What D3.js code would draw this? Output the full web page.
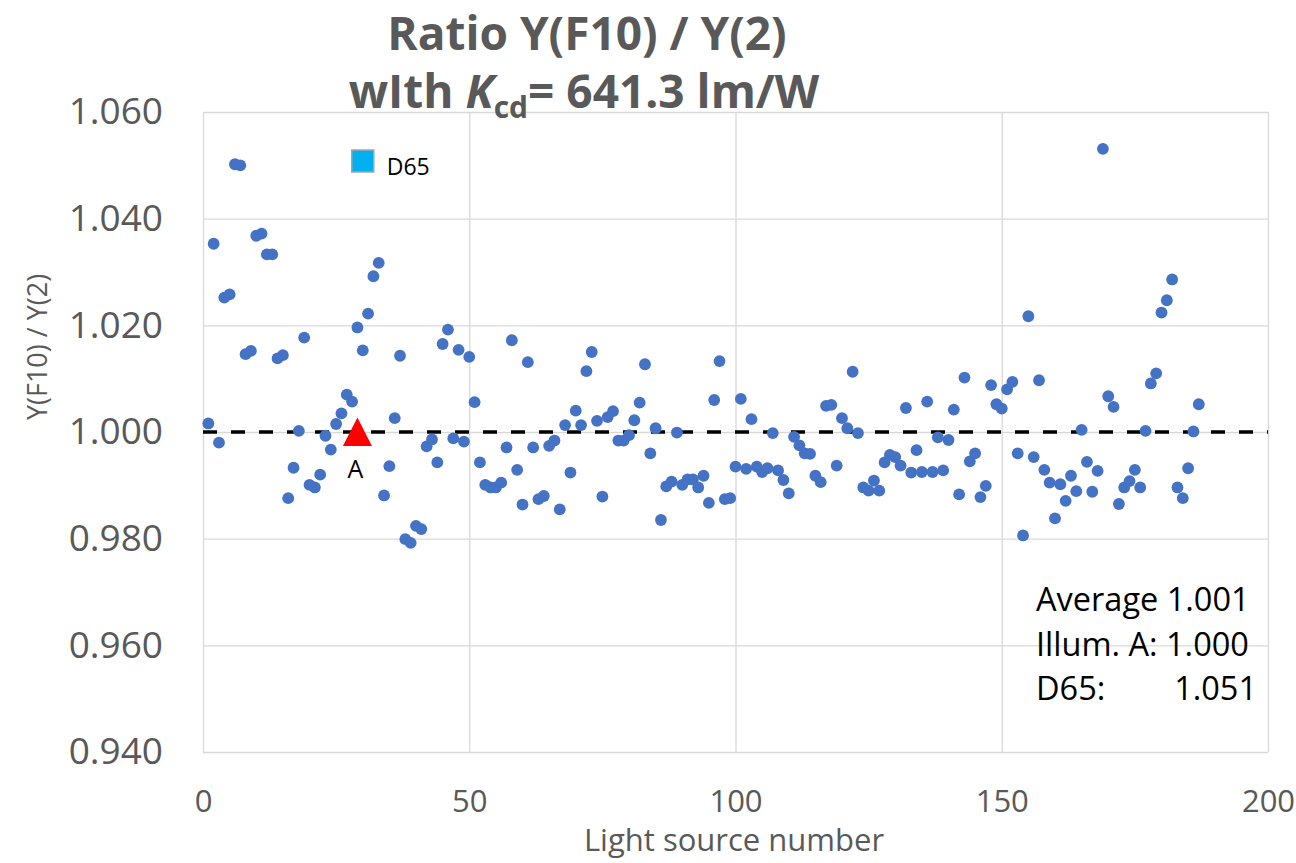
<!DOCTYPE html>
<html>
<head>
<meta charset="utf-8">
<script src="https://cdn.jsdelivr.net/npm/d3@7"></script>
<style>
  html, body { margin: 0; padding: 0; background: #fff; }
  svg { display: block; }
</style>
</head>
<body>
<svg id="chart" width="1296" height="863"></svg>
<script>
// ---------------- DATA ----------------
const lightSourceNumbers = [
  1,2,3,4,5,6,7,8,9,10,11,12,13,14,15,16,17,18,19,20,
  21,22,23,24,25,26,27,28,29,30,31,32,33,34,35,36,37,38,39,40,
  41,42,43,44,45,46,47,48,49,50,51,52,53,54,55,56,57,58,59,60,
  61,62,63,64,65,66,67,68,69,70,71,72,73,74,75,76,77,78,79,80,
  81,82,83,84,85,86,87,88,89,90,91,92,93,94,95,96,97,98,99,100,
  101,102,103,104,105,106,107,108,109,110,111,112,113,114,115,116,117,118,119,120,
  121,122,123,124,125,126,127,128,129,130,131,132,133,134,135,136,137,138,139,140,
  141,142,143,144,145,146,147,148,149,150,151,152,153,154,155,156,157,158,159,160,
  161,162,163,164,165,166,167,168,169,170,171,172,173,174,175,176,177,178,179,180,
  181,182,183,184,185,186,187
];
const ratios = [
  1.0016,1.0353,0.9980,1.0252,1.0258,1.0502,1.0500,1.0146,1.0152,1.0368,
  1.0372,1.0333,1.0333,1.0138,1.0144,0.9876,0.9933,1.0002,1.0177,0.9901,
  0.9896,0.9920,0.9993,0.9967,1.0015,1.0035,1.0070,1.0057,1.0196,1.0153,
  1.0222,1.0292,1.0317,0.9881,0.9936,1.0026,1.0143,0.9799,0.9792,0.9824,
  0.9818,0.9973,0.9986,0.9943,1.0165,1.0192,0.9988,1.0154,0.9982,1.0141,
  1.0056,0.9943,0.9901,0.9896,0.9896,0.9905,0.9971,1.0172,0.9929,0.9864,
  1.0131,0.9971,0.9874,0.9880,0.9974,0.9984,0.9855,1.0013,0.9924,1.0040,
  1.0013,1.0114,1.0150,1.0021,0.9879,1.0028,1.0039,0.9984,0.9984,0.9994,
  1.0022,1.0055,1.0127,0.9960,1.0007,0.9835,0.9898,0.9907,0.9999,0.9901,
  0.9911,0.9911,0.9896,0.9918,0.9867,1.0060,1.0133,0.9874,0.9876,0.9935,
  1.0062,0.9931,1.0024,0.9935,0.9925,0.9932,0.9998,0.9928,0.9910,0.9885,
  0.9991,0.9975,0.9960,0.9959,0.9918,0.9906,1.0049,1.0051,0.9937,1.0026,
  1.0007,1.0113,0.9998,0.9896,0.9890,0.9909,0.9890,0.9943,0.9957,0.9953,
  0.9937,1.0045,0.9924,0.9966,0.9925,1.0057,0.9925,0.9990,0.9928,0.9985,
  1.0042,0.9883,1.0102,0.9945,0.9960,0.9878,0.9899,1.0088,1.0052,1.0044,
  1.0080,1.0094,0.9960,0.9806,1.0217,0.9953,1.0097,0.9929,0.9905,0.9838,
  0.9902,0.9871,0.9918,0.9889,1.0004,0.9944,0.9888,0.9927,1.0531,1.0067,
  1.0047,0.9865,0.9896,0.9908,0.9929,0.9896,1.0002,1.0091,1.0110,1.0224,
  1.0247,1.0286,0.9896,0.9876,0.9932,1.0001,1.0052
];
const illumA = [{ n: 29, ratio: 1.000, label: "A" }];
const d65 = [{ n: 30, ratio: 1.051, label: "D65" }];
const referenceLine = [{ n: 0, ratio: 1.000 }, { n: 200, ratio: 1.000 }];

const xTicks = [0, 50, 100, 150, 200];
const yTicks = [0.94, 0.96, 0.98, 1.00, 1.02, 1.04, 1.06];
const xDomain = [0, 200];
const yDomain = [0.94, 1.06];

const titleLine1 = "Ratio Y(F10) / Y(2)";
const xTitle = "Light source number";
const yTitle = "Y(F10) / Y(2)";
const statsLines = ["Average 1.001", "Illum. A: 1.000"];
const statsD65 = ["D65:", "1.051"];

(function () {
// ---------------- LAYOUT ----------------
const svg = d3.select("#chart");
const pLeft = 203, pRight = 1268, pTop = 112, pBottom = 752;
const W = pRight - pLeft, H = pBottom - pTop;
const grey = "#595959";
const gridColor = "#D9D9D9";
const tickFont = "'Open Sans', sans-serif";

svg.append("rect").attr("width", 1296).attr("height", 863).attr("fill", "#fff");

const x = d3.scaleLinear().domain(xDomain).range([pLeft, pRight]);
const y = d3.scaleLinear().domain(yDomain).range([pBottom, pTop]);

// gridlines + tick labels via axes
const yAxis = d3.axisLeft(y).tickValues(yTicks).tickSize(-W).tickPadding(40)
  .tickFormat(d3.format(".3f"));
const gy = svg.append("g").attr("transform", `translate(${pLeft},0)`).call(yAxis);
gy.select(".domain").remove();
gy.selectAll(".tick line").attr("stroke", gridColor).attr("stroke-width", 1.3);
gy.selectAll(".tick text").attr("fill", grey).style("font-family", tickFont)
  .style("font-size", "37px");

const xAxis = d3.axisBottom(x).tickValues(xTicks).tickSize(-H).tickPadding(38)
  .tickFormat(d3.format("d"));
const gx = svg.append("g").attr("transform", `translate(0,${pBottom})`).call(xAxis);
gx.select(".domain").remove();
gx.selectAll(".tick line").attr("stroke", gridColor).attr("stroke-width", 1.3);
gx.selectAll(".tick text").attr("fill", grey).style("font-family", tickFont)
  .style("font-size", "31px");

// dashed reference line
svg.append("path")
  .datum(referenceLine)
  .attr("d", d3.line().x(d => x(d.n)).y(d => y(d.ratio)))
  .attr("fill", "none")
  .attr("stroke", "#000")
  .attr("stroke-width", 3.5)
  .attr("stroke-dasharray", "14,14");

// data points
const pts = lightSourceNumbers.map((n, i) => ({ n, ratio: ratios[i] }));
svg.append("g").selectAll("circle").data(pts).join("circle")
  .attr("cx", d => x(d.n))
  .attr("cy", d => y(d.ratio))
  .attr("r", 5.9)
  .attr("fill", "#4472C4");

// Illuminant A triangle
svg.append("g").selectAll("path").data(illumA).join("path")
  .attr("d", d => {
    const cx = x(d.n), cy = y(d.ratio);
    return `M${cx},${cy - 14.5}L${cx + 14.5},${cy + 14}L${cx - 14.5},${cy + 14}Z`;
  })
  .attr("fill", "#FF0000");
svg.append("g").selectAll("text").data(illumA).join("text")
  .attr("x", d => x(d.n) - 2)
  .attr("y", d => y(d.ratio) + 46)
  .attr("text-anchor", "middle")
  .style("font-family", tickFont).style("font-size", "25px")
  .attr("fill", "#000")
  .text(d => d.label);

// D65 square
svg.append("g").selectAll("rect").data(d65).join("rect")
  .attr("x", d => x(d.n) - 11)
  .attr("y", d => y(d.ratio) - 10)
  .attr("width", 22).attr("height", 22)
  .attr("fill", "#00B0F0")
  .attr("stroke", "#A5A5A5").attr("stroke-width", 1.5);
svg.append("g").selectAll("text").data(d65).join("text")
  .attr("x", d => x(d.n) + 24)
  .attr("y", d => y(d.ratio) + 15)
  .style("font-family", tickFont).style("font-size", "23px")
  .attr("fill", "#000")
  .text(d => d.label);

// titles
svg.append("text")
  .attr("x", 587).attr("y", 50)
  .attr("text-anchor", "middle")
  .style("font-family", tickFont).style("font-size", "46px").style("font-weight", "bold")
  .attr("fill", grey)
  .text(titleLine1);

const t2 = svg.append("text")
  .attr("x", 584).attr("y", 108)
  .attr("text-anchor", "middle")
  .style("font-family", tickFont).style("font-size", "46px").style("font-weight", "bold")
  .attr("fill", grey);
t2.append("tspan").text("wIth ");
t2.append("tspan").style("font-style", "italic").text("K");
t2.append("tspan").attr("dy", 10).style("font-size", "30px").text("cd");
t2.append("tspan").attr("dy", -10).text("= 641.3 lm/W");

// axis titles
svg.append("text")
  .attr("x", 734).attr("y", 851)
  .attr("text-anchor", "middle")
  .style("font-family", tickFont).style("font-size", "31px")
  .attr("fill", grey)
  .text(xTitle);

svg.append("text")
  .attr("transform", "translate(47,347) rotate(-90)")
  .attr("text-anchor", "middle")
  .style("font-family", tickFont).style("font-size", "27px")
  .attr("fill", grey)
  .text(yTitle);

// stats text block
const statsG = svg.append("g")
  .style("font-family", tickFont).style("font-size", "32.5px").attr("fill", "#000");
statsG.selectAll("text.s").data(statsLines).join("text")
  .attr("class", "s")
  .attr("x", 1036)
  .attr("y", (d, i) => 611 + i * 44.5)
  .text(d => d);
statsG.append("text").attr("x", 1036).attr("y", 700).text(statsD65[0]);
statsG.append("text").attr("x", 1257).attr("y", 700).attr("text-anchor", "end").text(statsD65[1]);
})();
</script>
</body>
</html>
